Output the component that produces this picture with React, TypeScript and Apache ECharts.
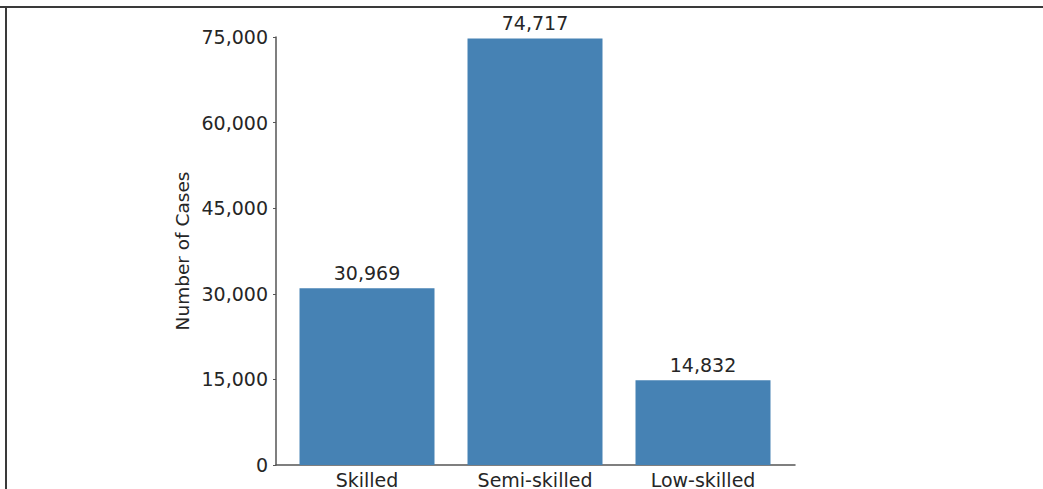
import React, { useEffect, useRef } from "react";
import * as echarts from "echarts";

const categories = ["Skilled", "Semi-skilled", "Low-skilled"];
const caseCounts = [30969, 74717, 14832];
const yTicks = [0, 15000, 30000, 45000, 60000, 75000];
const categoryPositions = [0, 1, 2];

const FONT = "DejaVu Sans";
const TEXT = "#262626";
const AXIS = "#555555";

export default function App() {
  const ref = useRef<HTMLDivElement>(null);
  useEffect(() => {
    document.body.style.margin = "0";
    if (!ref.current) return;
    const chart = echarts.init(ref.current, undefined, { renderer: "svg" });
    const seriesData = caseCounts.map((v, i) => [categoryPositions[i], v]);
    chart.setOption({
      animation: false,
      backgroundColor: "#ffffff",
      textStyle: { fontFamily: FONT },
      grid: { left: 276, right: 248, top: 37, bottom: 22, containLabel: false },
      xAxis: {
        type: "value",
        min: -0.5417,
        max: 2.5476,
        splitLine: { show: false },
        axisLine: { show: true, onZero: false, lineStyle: { color: AXIS, width: 1.5 } },
        axisTick: { show: true, inside: true, length: 3, customValues: categoryPositions, lineStyle: { color: AXIS } },
        axisLabel: {
          color: TEXT,
          fontSize: 19,
          fontFamily: FONT,
          margin: 5,
          customValues: categoryPositions,
          formatter: (v: number) => categories[Math.round(v)] ?? "",
        },
      },
      yAxis: {
        type: "value",
        min: yTicks[0],
        max: yTicks[yTicks.length - 1],
        interval: 15000,
        name: "Number of Cases",
        nameLocation: "middle",
        nameGap: 84,
        nameRotate: 90,
        nameTextStyle: { color: TEXT, fontSize: 18.5, fontFamily: FONT },
        axisLine: { show: true, onZero: false, lineStyle: { color: AXIS, width: 1.5 } },
        axisTick: { show: true, length: 3, lineStyle: { color: AXIS } },
        splitLine: { show: false },
        axisLabel: {
          color: TEXT,
          fontSize: 19,
          fontFamily: FONT,
          margin: 8,
          formatter: (v: number) => v.toLocaleString("en-US"),
        },
      },
      series: [
        {
          type: "bar",
          data: seriesData,
          barWidth: 135,
          itemStyle: { color: "#4682B4" },
          label: {
            show: true,
            position: "top",
            distance: 6,
            color: TEXT,
            fontSize: 19,
            fontFamily: FONT,
            formatter: (p: any) => Number(p.value[1]).toLocaleString("en-US"),
          },
        },
      ],
      graphic: [
        { type: "rect", shape: { x: 0, y: 6, width: 1043, height: 2 }, style: { fill: "#3a3a3a" } },
        { type: "rect", shape: { x: 5, y: 6, width: 2, height: 483 }, style: { fill: "#3a3a3a" } },
      ],
    });
    return () => chart.dispose();
  }, []);
  return <div ref={ref} style={{ width: 1043, height: 489 }} />;
}
